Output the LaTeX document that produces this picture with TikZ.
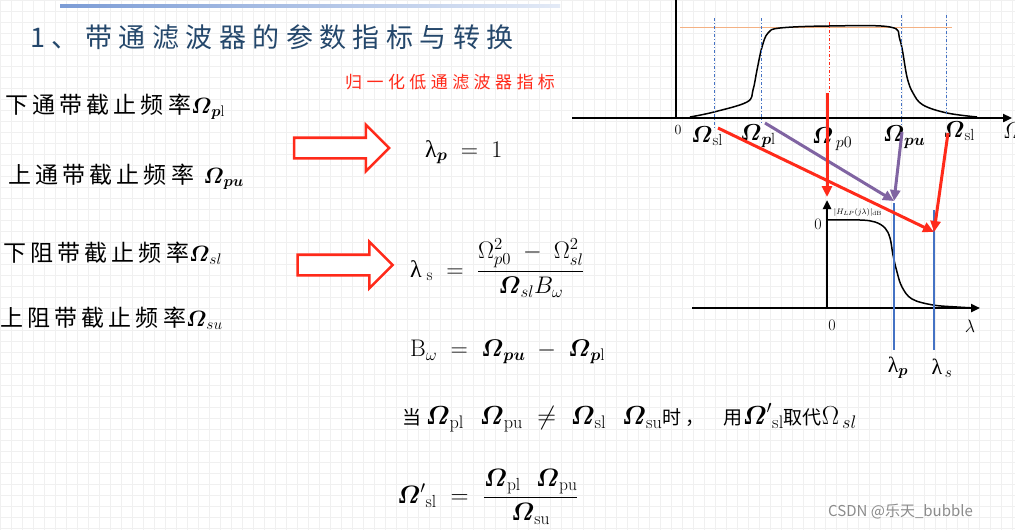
\RequirePackage{fix-cm}
\documentclass[tikz,border=0pt]{standalone}
\usepackage{amsmath}
\usepackage{fontspec}
\usepackage{tikz}
\usetikzlibrary{arrows.meta,shapes.arrows}
\newfontfamily\cjk{Noto Sans CJK SC}
\newfontfamily\cjkwide[LetterSpace=18]{Noto Sans CJK SC}
\newfontfamily\cjktitle[LetterSpace=24]{Noto Sans CJK SC}
\newfontfamily\cjkred[LetterSpace=26]{Noto Sans CJK SC}
\newfontfamily\grk{Liberation Serif}
\definecolor{TitleBlue}{HTML}{24476B}
\definecolor{MarkRed}{HTML}{FF2A1A}
\definecolor{LineBlue}{HTML}{4472C4}
\definecolor{MapPurple}{HTML}{8064A2}
\definecolor{LevelOrange}{HTML}{F4B183}
\newcommand\Obf{\boldsymbol{\varOmega}}
\newcommand\ulam{\text{\grk λ}}
\newcommand\msz{\fontsize{24}{28}\selectfont}
\newcommand\lsz{\fontsize{22}{26}\selectfont}
\newcommand\cjks{\fontsize{19}{22}\selectfont\cjk}
\tikzset{
  gridline/.style={draw=black!6,line width=0.5pt},
  lab/.style={anchor=west,inner sep=0pt,font=\fontsize{23}{26}\selectfont\cjkwide},
  eqn/.style={anchor=west,inner sep=0pt,font=\msz},
  hollow/.style={single arrow,draw=MarkRed,fill=white,line width=2.6pt,
                 minimum height=95pt,inner xsep=0pt,inner ysep=9pt,
                 single arrow head extend=13pt,single arrow head indent=0pt},
  axis/.style={line width=2.4pt,-{Triangle[length=9pt,width=8pt]}},
  resp/.style={line width=1.5pt},
  cutline/.style={draw=LineBlue,line width=1pt,dash dot},
  centerline/.style={draw=MarkRed,line width=1pt,dash dot},
  lamline/.style={draw=LineBlue,line width=2pt},
  mapR/.style={draw=MarkRed,line width=3pt,-{Triangle[length=11pt,width=10pt]}},
  mapP/.style={draw=MapPurple,line width=3pt,-{Triangle[length=11pt,width=10pt]}},
  olab/.style={inner sep=0pt,font=\fontsize{23}{26}\selectfont}
}

\begin{document}
\begin{tikzpicture}[x=1pt,y=-1pt]
  % page and grid
  \useasboundingbox (0,0) rectangle (1015,530);
  \fill[white] (0,0) rectangle (1015,530);
  \draw[gridline] (0,0) grid[step=11pt] (1015,530);
  \shade[left color=LineBlue!70,right color=LineBlue!15] (60,4) rectangle (560,7);

  % headings
  \node[anchor=west,inner sep=0pt,text=TitleBlue,font=\fontsize{27}{32}\selectfont\cjktitle] (title) at (30,37) {1、带通滤波器的参数指标与转换};
  \node[anchor=west,inner sep=0pt,text=MarkRed,font=\fontsize{17}{20}\selectfont\cjkred] (subhead) at (345,82) {归一化低通滤波器指标};

  % band-pass edges
  \node[lab] (epl) at (5,107) {下通带截止频率{\lsz$\Obf_{\boldsymbol{p}\mathrm{l}}$}};
  \node[lab] (epu) at (8,177) {上通带截止频率 {\lsz$\Obf_{\boldsymbol{pu}}$}};
  \node[lab] (esl) at (3,253) {下阻带截止频率{\lsz$\Obf_{sl}$}};
  \node[lab] (esu) at (0,318) {上阻带截止频率{\lsz$\Obf_{su}$}};

  \node[hollow] (arr1) at (336.5,148) {};
  \node[hollow] (arr2) at (340,265) {};

  % low-pass specs
  \node[eqn] (lamp) at (425,152) {$\ulam_{\boldsymbol{p}} \;=\; 1$};
  \node[eqn] (lams) at (410,268) {$\ulam_{\;\mathrm{s}} \;=\; \dfrac{\Omega_{p0}^{2}\;-\;\Omega_{sl}^{2}}{\Obf_{sl}B_{\omega}}$};
  \node[eqn] (bw) at (410,352) {$\mathrm{B}_{\omega} \;=\; \Obf_{\boldsymbol{pu}} \;-\; \Obf_{\boldsymbol{p}\mathrm{l}}$};
  \node[eqn,font=\fontsize{26}{30}\selectfont] (cond) at (402,418) {{\cjks 当}\,$\Obf_{\mathrm{pl}}\ \ \Obf_{\mathrm{pu}} \;\neq\; \Obf_{\mathrm{sl}}\ \ \Obf_{\mathrm{su}}${\cjks 时\ ，\quad 用}$\Obf'{}_{\mathrm{sl}}${\cjks 取代}$\Omega_{\,sl}$};
  \node[eqn,font=\fontsize{25}{30}\selectfont] (newsl) at (397,497) {$\Obf'{}_{\mathrm{sl}} \;=\; \dfrac{\Obf_{\mathrm{pl}}\ \ \Obf_{\mathrm{pu}}}{\Obf_{\mathrm{su}}}$};

  % band-pass response
  \draw[line width=1pt,LevelOrange] (680,27) -- (952,27);
  \draw[axis] (572,118) -- (1012,118);
  \draw[line width=2.4pt] (676,118) -- (676,0);
  \draw[resp] plot[smooth,tension=0.6] coordinates {(690,117) (714,112) (747,102) (753,90) (757,70) (762,47) (768,33) (780,28) (829,26) (890,27) (900,40) (907,77) (913,93) (923,105) (947,113) (977,117)};
  \foreach \xc/\yt/\yb in {714/18/130,761/18/123,901/15/128,946/15/115}
    \draw[cutline] (\xc,\yt) -- (\xc,\yb);
  \draw[centerline] (829,22) -- (829,93);
  \node[inner sep=0pt,font=\fontsize{14}{16}\selectfont] (zero1) at (678,130) {0};
  \node[anchor=west,olab] (omax) at (1003,131) {$\varOmega$};
  \node[olab] (osl1) at (707,136) {$\Obf_{\mathrm{sl}}$};
  \node[olab] (opl) at (758,136) {$\Obf_{\boldsymbol{p}\mathrm{l}}$};
  \node[olab] (op0) at (832,139) {$\Obf_{\,p0}$};
  \node[olab] (opu) at (904,137) {$\Obf_{\boldsymbol{pu}}$};
  \node[olab] (osl2) at (959,131) {$\Obf_{\mathrm{sl}}$};

  % low-pass response
  \draw[axis] (692,308) -- (980,308);
  \draw[axis] (827,308) -- (827,200);
  \draw[resp] plot[smooth,tension=0.6] coordinates {(827,220) (860,220) (875,222) (885,228) (890,238) (893,255) (897,272) (902,287) (912,299) (933,305) (957,307) (975,308)};
  \draw[lamline] (894,203) -- (894,350);
  \draw[lamline] (934,210) -- (934,350);
  \node[inner sep=0pt,font=\fontsize{16}{18}\selectfont] (one) at (818,224) {0};
  \node[inner sep=0pt,font=\fontsize{16}{18}\selectfont] (zero2) at (832,325) {0};
  \node[inner sep=0pt,font=\fontsize{8}{9}\selectfont] (hlp) at (858,212) {$|H_{LP}(j\lambda)|_{\mathrm{dB}}$};
  \node[inner sep=0pt,font=\fontsize{18}{20}\selectfont] (lamax) at (970,326) {$\lambda$};
  \node[inner sep=0pt,font=\lsz] (lplab) at (898,368) {$\ulam_{\boldsymbol{p}}$};
  \node[inner sep=0pt,font=\lsz] (lslab) at (942,368) {$\ulam_{\,s}$};

  % mapping arrows
  \coordinate (hp) at (894,201);
  \coordinate (hs) at (934,232);
  \coordinate (hz) at (827,197);
  \coordinate (fsl1) at (718,128);
  \coordinate (fpl) at (765,123);
  \coordinate (fp0) at (827,93);
  \coordinate (fpu) at (902,132);
  \coordinate (fsl2) at (948,133);
  \draw[mapR] (fsl1) -- (hs);
  \draw[mapP] (fpl) -- (hp);
  \draw[mapR] (fp0) -- (hz);
  \draw[mapP] (fpu) -- (hp);
  \draw[mapR] (fsl2) -- (hs);

  \node[anchor=west,inner sep=0pt,text=black!45,font=\fontsize{15}{18}\selectfont\cjk] (mark) at (828,512) {CSDN @乐天\_bubble};
\end{tikzpicture}
\end{document}
